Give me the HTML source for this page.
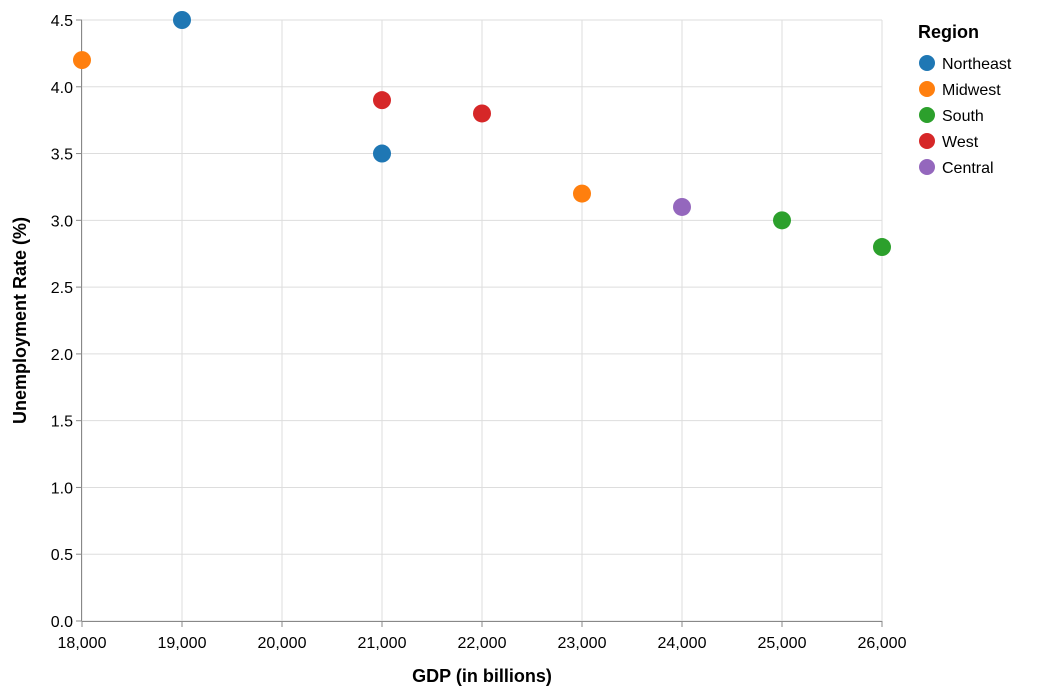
<!DOCTYPE html>
<html><head><meta charset="utf-8"><style>
html,body{margin:0;padding:0;background:#fff;}
svg{display:block;font-family:"Liberation Sans",Arial,sans-serif;}
</style></head><body>
<svg id="chart" width="1048" height="694"></svg>
<script>
const gdp = [18000, 19000, 21000, 22000, 21000, 23000, 24000, 25000, 26000];
const unemp = [4.2, 4.5, 3.9, 3.8, 3.5, 3.2, 3.1, 3.0, 2.8];
const region = ["Midwest","Northeast","West","West","Northeast","Midwest","Central","South","South"];
const regions = ["Northeast","Midwest","South","West","Central"];
const colors = ["#1f77b4","#ff7f0e","#2ca02c","#d62728","#9467bd"];
const xTicks = [18000,19000,20000,21000,22000,23000,24000,25000,26000];
const yTicks = [0,0.5,1,1.5,2,2.5,3,3.5,4,4.5];

const NS="http://www.w3.org/2000/svg";
const svg=document.getElementById('chart');
const X0=82,X1=882,Y0=621,Y1=20;
const xs=v=>X0+(v-18000)/(26000-18000)*(X1-X0);
const ys=v=>Y0-v/4.5*(Y0-Y1);
function el(t,a,txt){const e=document.createElementNS(NS,t);for(const k in a)e.setAttribute(k,a[k]);if(txt!==undefined)e.textContent=txt;svg.appendChild(e);return e;}

xTicks.forEach(t=>{
  const g=el('line',{x1:xs(t),x2:xs(t),y1:Y1,y2:Y0,stroke:'#ddd','stroke-width':1});
  
  
  const tk=el('line',{x1:xs(t),x2:xs(t),y1:Y0,y2:Y0+6,stroke:'#888'});
  
  
  const l=el('text',{x:xs(t),y:Y0+27,'text-anchor':'middle','font-size':16,fill:'#000'},t.toLocaleString('en-US'));
  
  
});
yTicks.forEach(t=>{
  const g=el('line',{x1:X0,x2:X1,y1:ys(t),y2:ys(t),stroke:'#ddd','stroke-width':1});
  
  
  const tk=el('line',{x1:X0-6,x2:X0,y1:ys(t),y2:ys(t),stroke:'#888'});
  
  
  const l=el('text',{x:X0-9,y:ys(t)+6,'text-anchor':'end','font-size':16,fill:'#000'},t.toFixed(1));
  
  
});
const xa=el('line',{x1:X0,x2:X1,y1:Y0+0.5,y2:Y0+0.5,stroke:'#888'});


const ya=el('line',{x1:X0-0.5,x2:X0-0.5,y1:Y1,y2:Y0,stroke:'#888'});


const xt=el('text',{x:(X0+X1)/2,y:682,'text-anchor':'middle','font-size':18,'font-weight':'bold'},'GDP (in billions)');


const yt=el('text',{x:0,y:0,'text-anchor':'middle','font-size':18,'font-weight':'bold',transform:`translate(26,${(Y0+Y1)/2}) rotate(-90)`},'Unemployment Rate (%)');



gdp.forEach((g,i)=>{
  const c=el('circle',{cx:xs(g),cy:ys(unemp[i]),r:9,fill:colors[regions.indexOf(region[i])]});
  
  
});

const lt=el('text',{x:918,y:38,'font-size':18,'font-weight':'bold'},'Region');


regions.forEach((r,i)=>{
  const y=63+i*26;
  const c=el('circle',{cx:927,cy:y,r:8,fill:colors[i]});
  
  
  const t=el('text',{x:942,y:y+6,'font-size':16},r);
  
  
});
</script>
</body></html>
